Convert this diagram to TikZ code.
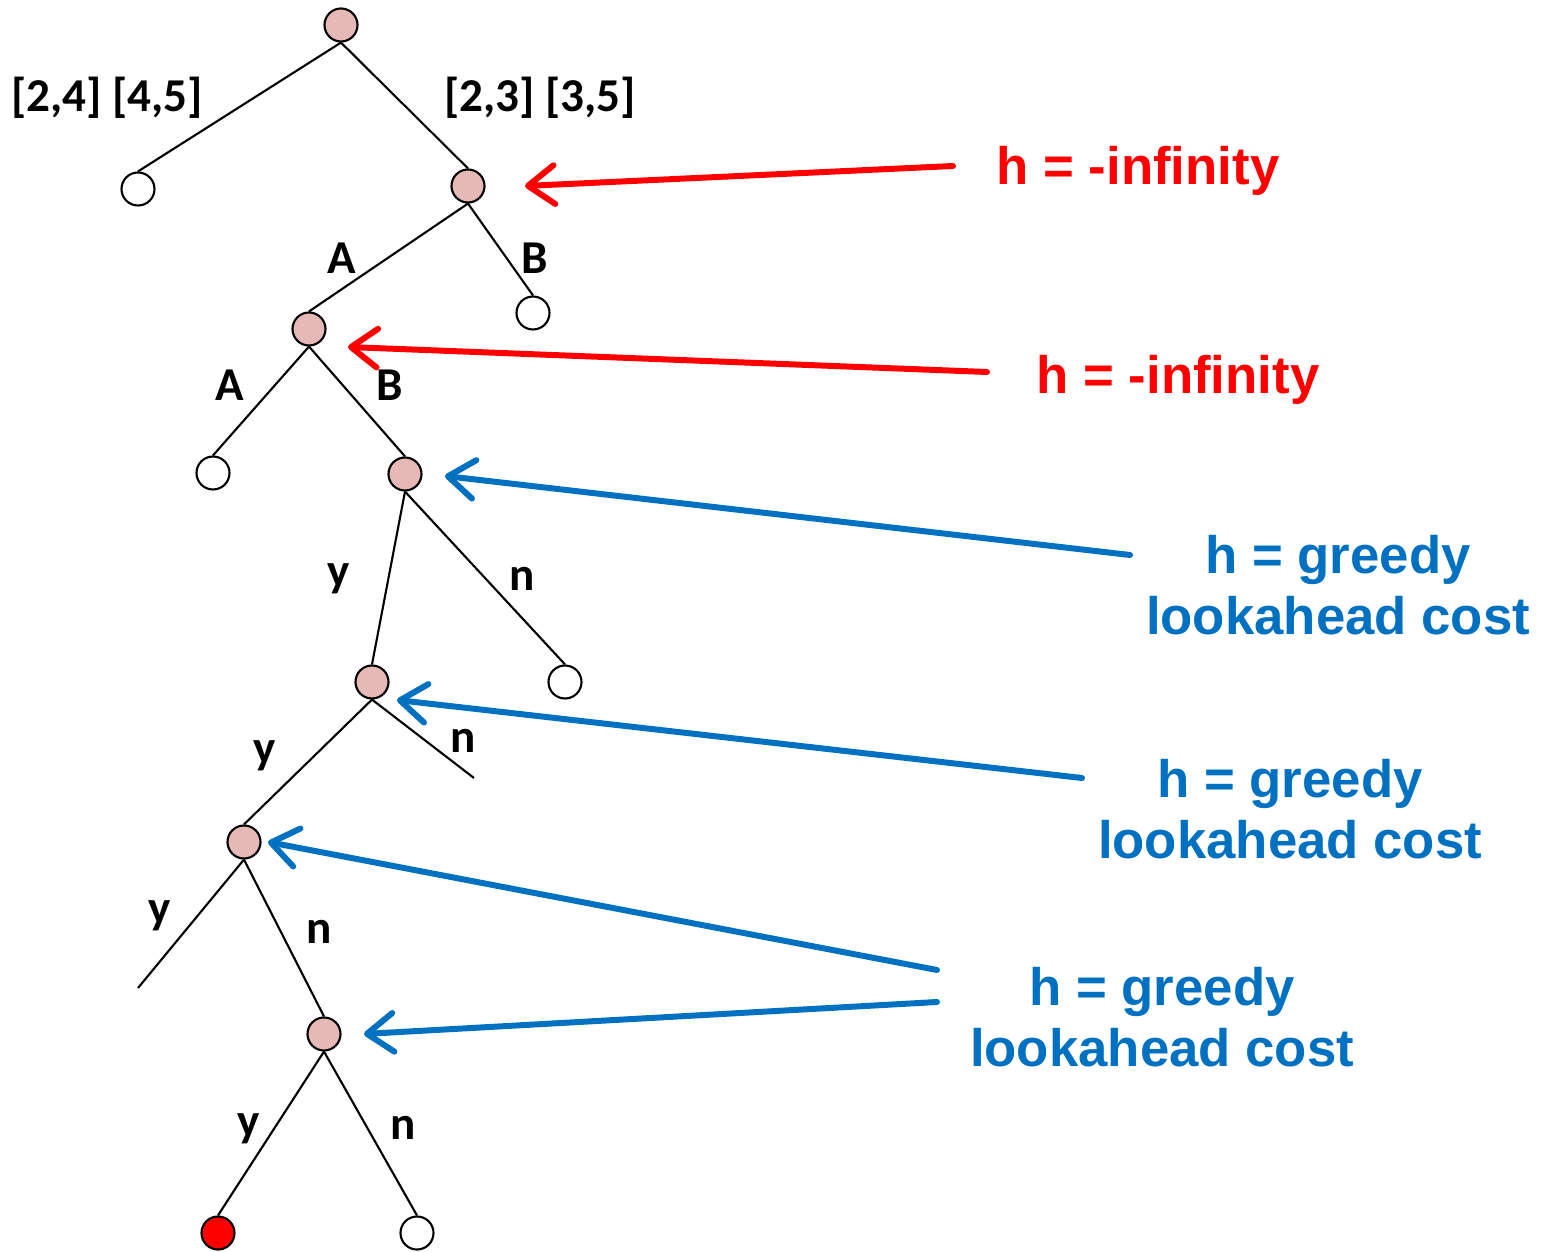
\documentclass[tikz,border=0pt]{standalone}
\usepackage{fontspec}
\setmainfont{Liberation Sans}
\newfontfamily\calibri{Carlito}
\usetikzlibrary{arrows.meta}
\definecolor{nodepink}{RGB}{230,184,183}
\definecolor{hblue}{RGB}{0,112,192}
\definecolor{hred}{RGB}{255,0,0}

\begin{document}
\begin{tikzpicture}[
  x=0.01cm, y=-0.01cm,
  vtx/.style={circle, draw, line width=0.6pt, minimum size=0.33cm, inner sep=0pt},
  inner/.style={vtx, fill=nodepink},
  leaf/.style={vtx, fill=white},
  goal/.style={vtx, fill=red},
  edge/.style={line width=0.6pt},
  lbl/.style={font=\calibri\bfseries\fontsize{13.4}{16}\selectfont},
  hnote/.style={font=\bfseries\fontsize{15}{17.4}\selectfont, align=center},
  harr/.style={line width=1.7pt, line cap=round,
               {Straight Barb[round, length=7.5pt, width=11pt]}-},
]
\useasboundingbox (0,0) rectangle (1545,1252);

%% ---- TREE NODES ----
\node[inner] (r)    at (341,25)   {};
\node[leaf]  (l)    at (138,189)  {};
\node[inner] (n1)   at (468,186)  {};
\node[inner] (na)   at (309,329)  {};
\node[leaf]  (nb)   at (533,313)  {};
\node[leaf]  (naa)  at (213,473)  {};
\node[inner] (nab)  at (405,474)  {};
\node[inner] (ny)   at (372,682)  {};
\node[leaf]  (nn)   at (565,682)  {};
\coordinate  (nyn)  at (474,778);
\node[inner] (nyy)  at (244,842)  {};
\coordinate  (nyyy) at (138,988);
\node[inner] (nyyn) at (324,1034) {};
\node[goal]  (gy)   at (218,1233) {};
\node[leaf]  (gn)   at (417,1233) {};

%% ---- EDGES ----
\foreach \a/\b in {r/l,r/n1,n1/na,n1/nb,na/naa,na/nab,nab/ny,nab/nn,
                   ny/nyy,nyy/nyyn,nyyn/gy,nyyn/gn}{
  \draw[edge] (\a.south) -- (\b.north);
}
\draw[edge] (ny.south) -- (nyn);
\draw[edge] (nyy.south) -- (nyyy);

%% ---- EDGE LABELS ----
\node[lbl] (e1) at (107,98)   {[2,4] [4,5]};
\node[lbl] (e2) at (540,98)   {[2,3] [3,5]};
\node[lbl] (e3) at (342,258)  {A};
\node[lbl] (e4) at (535,258)  {B};
\node[lbl] (e5) at (230,385)  {A};
\node[lbl] (e6) at (390,385)  {B};
\node[lbl] (e7) at (339,579)  {y};
\node[lbl] (e8) at (522,579)  {n};
\node[lbl] (e9) at (265,756)  {y};
\node[lbl] (e10) at (463,741) {n};
\node[lbl] (e11) at (160,916) {y};
\node[lbl] (e12) at (319,932) {n};
\node[lbl] (e13) at (249,1129) {y};
\node[lbl] (e14) at (403,1128) {n};

%% ---- HEURISTIC NOTES ----
\node[hnote, text=hred]  (h1) at (1138,171) {h = -infinity};
\node[hnote, text=hred]  (h2) at (1178,380) {h = -infinity};
\node[hnote, text=hblue] (h3) at (1338,585) {h = greedy\\lookahead cost};
\node[hnote, text=hblue] (h4) at (1290,809) {h = greedy\\lookahead cost};
\node[hnote, text=hblue] (h5) at (1162,1017) {h = greedy\\lookahead cost};

%% ---- ARROWS ----
\coordinate (t1) at (953,166);  \coordinate (p1) at (525,186);
\coordinate (t2) at (987,372);  \coordinate (p2) at (348,347);
\coordinate (t3) at (1130,555); \coordinate (p3) at (445,476);
\coordinate (t4) at (1082,778); \coordinate (p4) at (397,700);
\coordinate (t5) at (937,970);  \coordinate (p5) at (268,842);
\coordinate (t6) at (937,1002); \coordinate (p6) at (364,1034);
\draw[harr, hred]  (p1) -- (t1);
\draw[harr, hred]  (p2) -- (t2);
\draw[harr, hblue] (p3) -- (t3);
\draw[harr, hblue] (p4) -- (t4);
\draw[harr, hblue] (p5) -- (t5);
\draw[harr, hblue] (p6) -- (t6);

\end{tikzpicture}
\end{document}
